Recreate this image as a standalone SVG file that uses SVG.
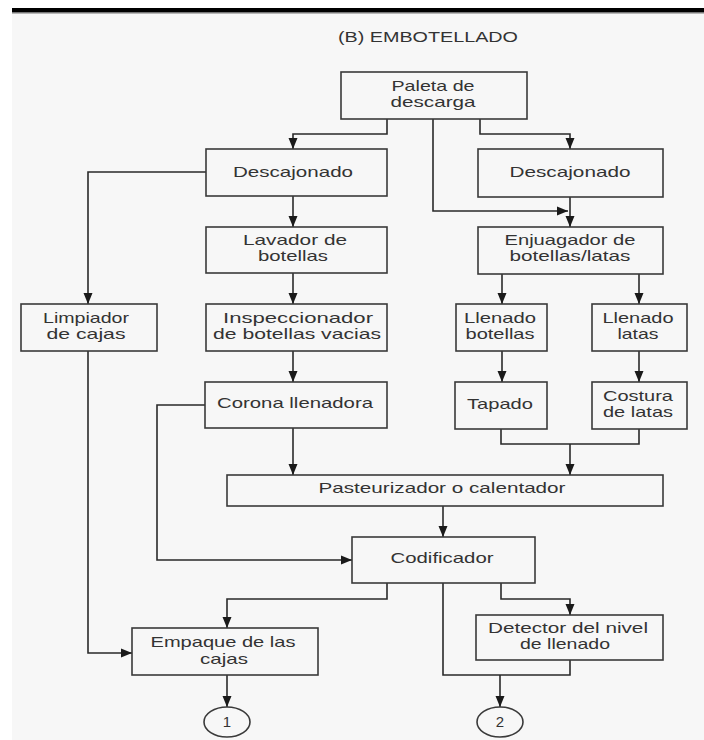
<svg xmlns="http://www.w3.org/2000/svg" width="704" height="740" viewBox="0 0 704 740">
<style>
.box{fill:none;stroke:#3a3a3a;stroke-width:1.6}
.ln{fill:none;stroke:#2a2a2a;stroke-width:1.6}
.ar{marker-end:url(#ah)}
text{font-family:"Liberation Sans",Arial,sans-serif;font-size:15px;fill:#333;text-anchor:middle}
.t{font-size:14px}
</style>
<defs>
<marker id="ah" markerUnits="userSpaceOnUse" markerWidth="12" markerHeight="12" viewBox="0 0 12 12" refX="11" refY="6" orient="auto">
<path d="M0,1.5 L11,6 L0,10.5 Z" fill="#1a1a1a"/>
</marker>
</defs>
<rect x="0" y="0" width="704" height="740" fill="#ffffff"/>
<rect x="12" y="12" width="692" height="728" fill="#f7f7f7"/>
<rect x="12" y="8" width="692" height="4" fill="#000"/>
<rect x="12" y="12" width="692" height="1.5" fill="#777"/>
<text class="t" x="428" y="42" textLength="180" lengthAdjust="spacingAndGlyphs">(B) EMBOTELLADO</text>

<g id="connectors">
<path class="ln ar" d="M387 119 V134 H293 V149"/>
<path class="ln ar" d="M433 119 V211 H568"/>
<path class="ln ar" d="M480 119 V134 H570 V149"/>
<path class="ln ar" d="M206 172 H88 V304"/>
<path class="ln ar" d="M293 196 V227"/>
<path class="ln ar" d="M293 273 V304"/>
<path class="ln ar" d="M293 351 V382"/>
<path class="ln ar" d="M570 197 V227"/>
<path class="ln ar" d="M502 274 V304"/>
<path class="ln ar" d="M639 274 V304"/>
<path class="ln ar" d="M502 351 V382"/>
<path class="ln ar" d="M639 351 V382"/>
<path class="ln" d="M501 429 V444 H639 V429"/>
<path class="ln ar" d="M570 444 V475"/>
<path class="ln ar" d="M293 428 V475"/>
<path class="ln ar" d="M205 405 H157 V560 H352"/>
<path class="ln ar" d="M443 506 V537"/>
<path class="ln ar" d="M88 351 V653 H132"/>
<path class="ln ar" d="M387 583 V599 H227 V628"/>
<path class="ln ar" d="M501 583 V599 H570 V615"/>
<path class="ln" d="M443 583 V675 H570 V660"/>
<path class="ln ar" d="M500 675 V707"/>
<path class="ln ar" d="M227 675 V707"/>
</g>

<g id="paleta"><rect class="box" x="341" y="72" width="186" height="47"/>
<text x="433" y="91" textLength="83" lengthAdjust="spacingAndGlyphs">Paleta de</text><text x="433" y="107" textLength="85" lengthAdjust="spacingAndGlyphs">descarga</text></g>
<g id="descajonado1"><rect class="box" x="206" y="149" width="181" height="47"/>
<text x="293" y="177" textLength="120" lengthAdjust="spacingAndGlyphs">Descajonado</text></g>
<g id="descajonado2"><rect class="box" x="478" y="149" width="185" height="48"/>
<text x="570" y="177" textLength="121" lengthAdjust="spacingAndGlyphs">Descajonado</text></g>
<g id="lavador"><rect class="box" x="206" y="227" width="181" height="46"/>
<text x="295" y="245" textLength="104" lengthAdjust="spacingAndGlyphs">Lavador de</text><text x="293" y="261" textLength="70" lengthAdjust="spacingAndGlyphs">botellas</text></g>
<g id="enjuagador"><rect class="box" x="478" y="227" width="185" height="47"/>
<text x="570" y="245" textLength="131" lengthAdjust="spacingAndGlyphs">Enjuagador de</text><text x="570" y="261" textLength="121" lengthAdjust="spacingAndGlyphs">botellas/latas</text></g>
<g id="limpiador"><rect class="box" x="21" y="304" width="136" height="47"/>
<text x="86" y="323" textLength="86" lengthAdjust="spacingAndGlyphs">Limpiador</text><text x="86" y="339" textLength="79" lengthAdjust="spacingAndGlyphs">de cajas</text></g>
<g id="inspeccionador"><rect class="box" x="206" y="304" width="181" height="47"/>
<text x="298" y="323" textLength="150" lengthAdjust="spacingAndGlyphs">Inspeccionador</text><text x="297" y="339" textLength="168" lengthAdjust="spacingAndGlyphs">de botellas vacias</text></g>
<g id="llenado-botellas"><rect class="box" x="456" y="304" width="91" height="47"/>
<text x="500" y="323" textLength="72" lengthAdjust="spacingAndGlyphs">Llenado</text><text x="500" y="339" textLength="69" lengthAdjust="spacingAndGlyphs">botellas</text></g>
<g id="llenado-latas"><rect class="box" x="592" y="304" width="95" height="47"/>
<text x="638" y="323" textLength="71" lengthAdjust="spacingAndGlyphs">Llenado</text><text x="638" y="339" textLength="41" lengthAdjust="spacingAndGlyphs">latas</text></g>
<g id="corona"><rect class="box" x="205" y="382" width="182" height="46"/>
<text x="295" y="408" textLength="156" lengthAdjust="spacingAndGlyphs">Corona llenadora</text></g>
<g id="tapado"><rect class="box" x="455" y="382" width="92" height="47"/>
<text x="500" y="409" textLength="66" lengthAdjust="spacingAndGlyphs">Tapado</text></g>
<g id="costura"><rect class="box" x="592" y="382" width="95" height="47"/>
<text x="638" y="401" textLength="70" lengthAdjust="spacingAndGlyphs">Costura</text><text x="638" y="417" textLength="70" lengthAdjust="spacingAndGlyphs">de latas</text></g>
<g id="pasteurizador"><rect class="box" x="227" y="475" width="436" height="31"/>
<text x="442" y="493" textLength="247" lengthAdjust="spacingAndGlyphs">Pasteurizador o calentador</text></g>
<g id="codificador"><rect class="box" x="352" y="537" width="183" height="46"/>
<text x="442" y="563" textLength="103" lengthAdjust="spacingAndGlyphs">Codificador</text></g>
<g id="empaque"><rect class="box" x="132" y="628" width="186" height="47"/>
<text x="223" y="647" textLength="145" lengthAdjust="spacingAndGlyphs">Empaque de las</text><text x="224" y="664" textLength="48" lengthAdjust="spacingAndGlyphs">cajas</text></g>
<g id="detector"><rect class="box" x="476" y="615" width="187" height="45"/>
<text x="568" y="633" textLength="160" lengthAdjust="spacingAndGlyphs">Detector del nivel</text><text x="565" y="649" textLength="90" lengthAdjust="spacingAndGlyphs">de llenado</text></g>
<g id="c1"><ellipse class="box" cx="227" cy="722" rx="23" ry="15"/><text x="227" y="727">1</text></g>
<g id="c2"><ellipse class="box" cx="500" cy="722" rx="23" ry="15"/><text x="500" y="727">2</text></g>
</svg>
